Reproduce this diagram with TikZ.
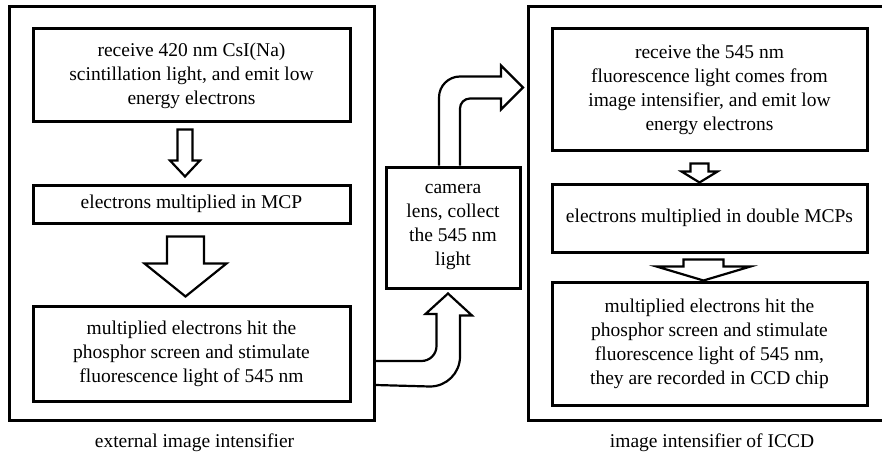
\documentclass[tikz,border=0pt]{standalone}
\usepackage{fontspec}
\setmainfont{Liberation Serif}
\newfontfamily\figfont{Liberation Serif}
\usetikzlibrary{calc}

\begin{document}
\begin{tikzpicture}[
    x=1pt, y=-1pt,
    font=\figfont\fontsize{19.5}{24}\selectfont,
    frame/.style={rectangle, draw=black, line width=3pt, inner sep=0pt},
    box/.style={rectangle, draw=black, line width=3pt, align=center, inner sep=0pt},
    caption/.style={inner sep=0pt},
    blk/.style={draw=black, line width=2.2pt, line join=miter},
    % hollow block arrow: shaft half width, head half width, head length
    fatdown/.style n args={3}{to path={let \p1=(\tikztostart), \p2=(\tikztotarget) in
        (\x1-#1,\y1) -- (\x1-#1,\y2+#3) -- (\x1-#2,\y2+#3) -- (\x2,\y2)
        -- (\x1+#2,\y2+#3) -- (\x1+#1,\y2+#3) -- (\x1+#1,\y1) -- cycle}}
]
    \clip (0,0) rectangle (882,457);

    % Outer frames and their captions
    \node (extii) at (191.5,213.5) [frame, minimum width=365, minimum height=413] {};
    \node (iccd) at (711.5,213.5) [frame, minimum width=367, minimum height=413] {};
    \node (capl) at (194.5,443) [caption] {external image intensifier};
    \node (capr) at (712,443) [caption] {image intensifier of ICCD};

    % Left column: external image intensifier
    \node (cathl) at (191.5,75.5) [box, minimum width=317, minimum height=93] {receive 420 nm CsI(Na)\\scintillation light, and emit low\\energy electrons};
    \node (mcpl) at (191.5,204) [box, minimum width=317, minimum height=38] {electrons multiplied in MCP};
    \node (scrl) at (191.5,353.5) [box, minimum width=317, minimum height=95] {multiplied electrons hit the\\phosphor screen and stimulate\\fluorescence light of 545 nm};

    % Middle: relay lens
    \node (cam) at (453,227.5) [box, minimum width=134, minimum height=121] {camera\\lens, collect\\the 545 nm\\light};

    % Right column: ICCD
    \node (cathr) at (709.5,90) [box, minimum width=315, minimum height=122] {receive the 545 nm\\fluorescence light comes from\\image intensifier, and emit low\\energy electrons};
    \node (mcpr) at (709.5,218) [box, minimum width=315, minimum height=68] {electrons multiplied in double MCPs};
    \node (scrr) at (709.5,343.5) [box, minimum width=315, minimum height=123] {multiplied electrons hit the\\phosphor screen and stimulate\\fluorescence light of 545 nm,\\they are recorded in CCD chip};

    % Straight hollow arrows
    \draw [blk, fatdown={7.5}{15}{16}] ($(cathl.south)+(-6.5,6)$) to ($(mcpl.north)+(-6.5,-7)$);
    \draw [blk, fatdown={18.5}{41}{33}] ($(mcpl.south)+(-6,12)$) to ($(scrl.north)+(-6,-8)$);
    \draw [blk, fatdown={9}{18}{11}] ($(cathr.south)+(-10,11)$) to ($(mcpr.north)+(-10,0)$);
    \draw [blk, fatdown={20}{47}{14}] ($(mcpr.south)+(-6,6)$) to ($(scrr.north)+(-6,0)$);

    % Bent arrow: external intensifier -> camera lens
    \draw [blk] ($(extii.east)+(0,147.5)$) -- ++(46,0)
        .. controls +(8.3,0) and +(0,8.3) .. ++(15,-15) -- ++(0,-32) -- ++(-11,0)
        -- ($(cam.south)+(-5,4)$) -- ++(24,22) -- ++(-12,0) -- ++(0,41)
        .. controls +(0,16.6) and +(16.6,0) .. ++(-30,30) -- ($(extii.east)+(0,171.5)$);

    % Bent arrow: camera lens -> ICCD
    \draw [blk] ($(cam.north)+(-14,0)$) -- ++(0,-68)
        .. controls +(0,-11.6) and +(-11.6,0) .. ++(21,-21) -- ++(41,0) -- ++(0,-11)
        -- ++(22,22) -- ++(-22,22) -- ++(0,-11) -- ++(-31,0)
        .. controls +(-5.5,0) and +(0,-5.5) .. ++(-10,10) -- ($(cam.north)+(7,0)$);
\end{tikzpicture}
\end{document}
